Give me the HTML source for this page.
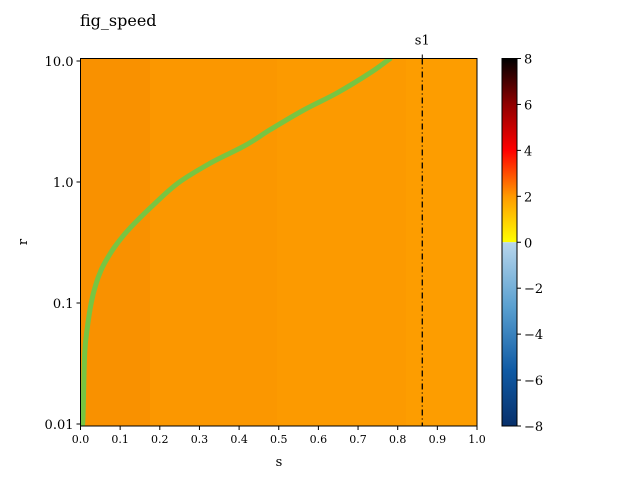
<!DOCTYPE html>
<html><head><meta charset="utf-8"><style>body{margin:0;background:#fff}svg{font-family:"DejaVu Serif","Liberation Serif",serif}</style></head>
<body>
<svg width="640" height="480" xmlns="http://www.w3.org/2000/svg">
<defs>
<linearGradient id="hot" x1="0" y1="1" x2="0" y2="0">
<stop offset="0" stop-color="#ffff00"/><stop offset="0.25" stop-color="#ff9a00"/><stop offset="0.5" stop-color="#ff0000"/><stop offset="0.75" stop-color="#900000"/><stop offset="1" stop-color="#000000"/></linearGradient>
<linearGradient id="blu" x1="0" y1="0" x2="0" y2="1">
<stop offset="0" stop-color="#b8d6ec"/><stop offset="0.35" stop-color="#5aa0d0"/><stop offset="0.7" stop-color="#0f5aa4"/><stop offset="1" stop-color="#08306b"/></linearGradient>
</defs>
<text x="80" y="26" font-size="16">fig_speed</text>
<g id="plot"></g>
<text x="279" y="466" font-size="13" text-anchor="middle">s</text>
<text x="27" y="242" font-size="13" text-anchor="middle" transform="rotate(-90 27 242)">r</text>
<g id="cbar"></g>
</svg>
<script>
const bandEdges=[0,0.175,0.495,0.82,1.0];
const bandColors=["#f99100","#fb9700","#fc9a00","#fd9d00"];
const curveS=[0.002,0.006,0.0106,0.018,0.027,0.038,0.052,0.068,0.086,0.12,0.178,0.246,0.329,0.415,0.478,0.561,0.647,0.73,0.776,0.782];
const curveR=[0.0095,0.0108,0.0386,0.065,0.1,0.14,0.187,0.235,0.29,0.40,0.62,0.98,1.44,2.0,2.7,3.9,5.44,7.96,10.2,10.6];
const xTicks=[0,0.1,0.2,0.3,0.4,0.5,0.6,0.7,0.8,0.9,1.0];
const yTicks=[0.01,0.1,1,10];
const yTickLabels=["0.01","0.1","1.0","10.0"];
const cbTicks=[-8,-6,-4,-2,0,2,4,6,8];
const s1=0.862;
const NS="http://www.w3.org/2000/svg";
const X0=80.5,X1=477,Y0=58.5,Y1=426;
const x=v=>X0+v*(X1-X0);
const y=v=>424-(Math.log10(v)+2)*121;
function mk(p,t,a){const e=document.createElementNS(NS,t);for(const k in a)e.setAttribute(k,a[k]);p.appendChild(e);return e;}
const g=document.getElementById('plot');
for(let i=0;i<bandColors.length;i++){
 const x0=Math.round(x(bandEdges[i])),x1=Math.round(x(bandEdges[i+1]));
 const r=mk(g,'rect',{x:x0,y:Y0,width:x1-x0+(i<bandColors.length-1?1:0),height:Y1-Y0,fill:bandColors[i],'shape-rendering':'crispEdges'});
 
 
}
const cp=document.createElementNS(NS,'clipPath');cp.id='clip';g.appendChild(cp);
mk(cp,'rect',{x:X0,y:Y0,width:X1-X0,height:Y1-Y0});
let d='';
for(let i=0;i<curveS.length;i++){
 const px=x(curveS[i]),py=y(curveR[i]);
 if(i===0){d+='M'+px.toFixed(1)+','+py.toFixed(1);continue;}
 const p0=[x(curveS[Math.max(i-2,0)]),y(curveR[Math.max(i-2,0)])],p1=[x(curveS[i-1]),y(curveR[i-1])],p3=[x(curveS[Math.min(i+1,curveS.length-1)]),y(curveR[Math.min(i+1,curveS.length-1)])];
 const c1=[p1[0]+(px-p0[0])/6,p1[1]+(py-p0[1])/6],c2=[px-(p3[0]-p1[0])/6,py-(p3[1]-p1[1])/6];
 d+=' C'+c1.map(v=>v.toFixed(1)).join(',')+' '+c2.map(v=>v.toFixed(1)).join(',')+' '+px.toFixed(1)+','+py.toFixed(1);
}
const pl=mk(g,'path',{d:d,fill:'none',stroke:'#77c542','stroke-width':5,'stroke-linejoin':'round','clip-path':'url(#clip)'});


const sl=mk(g,'line',{x1:x(s1),x2:x(s1),y1:Y0,y2:Y1,stroke:'#000','stroke-width':1.3,'stroke-dasharray':'6,3,1,3'});


mk(g,'line',{x1:x(s1),x2:x(s1),y1:Y0-4,y2:Y0,stroke:'#000'});
const st=mk(g,'text',{x:x(s1),y:Y0-14,'font-size':13,'text-anchor':'middle'});st.textContent='s1';


const fr=mk(g,'rect',{x:X0,y:Y0,width:X1-X0,height:Y1-Y0,fill:'none',stroke:'#000','stroke-width':1});


xTicks.forEach(v=>{mk(g,'line',{x1:x(v),x2:x(v),y1:Y1,y2:Y1+4,stroke:'#000'});
 const t=mk(g,'text',{x:x(v),y:Y1+17,'font-size':11,'text-anchor':'middle'});t.textContent=v.toFixed(1);
 
 });
yTicks.forEach((v,i)=>{mk(g,'line',{x1:X0-4,x2:X0,y1:y(v),y2:y(v),stroke:'#000'});
 const t=mk(g,'text',{x:X0-7,y:y(v)+5,'font-size':13,'text-anchor':'end'});t.textContent=yTickLabels[i];
 
 });
const cb=document.getElementById('cbar');
const CX=502,CW=15,CT=58.5,CB=426;
const cy=v=>CB-(v+8)/16*(CB-CT);
const h1=mk(cb,'rect',{x:CX,y:CT,width:CW,height:cy(0)-CT,fill:'url(#hot)'});


const h2=mk(cb,'rect',{x:CX,y:cy(0),width:CW,height:CB-cy(0),fill:'url(#blu)'});


mk(cb,'rect',{x:CX,y:CT,width:CW,height:CB-CT,fill:'none',stroke:'#000','stroke-width':1});
cbTicks.forEach(v=>{mk(cb,'line',{x1:CX+CW,x2:CX+CW+4,y1:cy(v),y2:cy(v),stroke:'#000'});
 const t=mk(cb,'text',{x:CX+CW+7,y:cy(v)+5,'font-size':13});t.textContent=v<0?'\u2212'+(-v):String(v);
 
 });
</script>
</body></html>
